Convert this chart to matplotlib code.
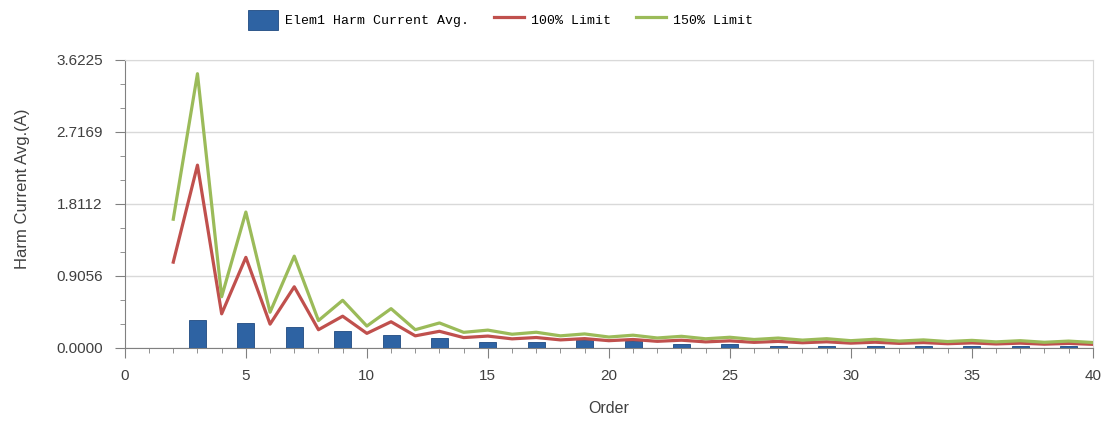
import matplotlib.pyplot as plt
import numpy as np
from matplotlib.ticker import MultipleLocator, AutoMinorLocator

# harmonic orders and measured average current (A)
orders = list(range(2, 41))
harm_avg = [0.005, 0.352, 0.005, 0.31, 0.005, 0.26, 0.005, 0.214, 0.005, 0.164,
            0.005, 0.122, 0.005, 0.072, 0.005, 0.072, 0.005, 0.10, 0.005, 0.09,
            0.005, 0.05, 0.005, 0.05, 0.005, 0.025, 0.005, 0.025, 0.005, 0.025,
            0.005, 0.025, 0.005, 0.025, 0.005, 0.025, 0.005, 0.03, 0.005]

# limit curves
limit_100 = [1.08, 2.30, 0.43, 1.14, 0.30, 0.77, 0.23, 0.40, 0.184, 0.33,
             0.153, 0.21, 0.131, 0.15, 0.115, 0.132, 0.102, 0.118, 0.092, 0.107,
             0.084, 0.098, 0.077, 0.090, 0.071, 0.083, 0.066, 0.078, 0.061, 0.073,
             0.058, 0.068, 0.054, 0.064, 0.051, 0.061, 0.048, 0.058, 0.046]
limit_150 = [1.62, 3.45, 0.645, 1.71, 0.45, 1.155, 0.345, 0.60, 0.276, 0.495,
             0.23, 0.315, 0.197, 0.225, 0.173, 0.198, 0.153, 0.177, 0.138, 0.161,
             0.126, 0.147, 0.116, 0.135, 0.107, 0.125, 0.099, 0.117, 0.092, 0.110,
             0.087, 0.102, 0.081, 0.096, 0.077, 0.092, 0.072, 0.087, 0.069]

yticks = [0.0, 0.9056, 1.8112, 2.7169, 3.6225]
ytick_labels = ['0.0000', '0.9056', '1.8112', '2.7169', '3.6225']

plt.rcParams['font.family'] = ['Liberation Sans', 'DejaVu Sans']

fig = plt.figure(figsize=(11.05, 4.21), dpi=100)
ax = fig.add_axes([0.113, 0.1734, 0.876, 0.6841])

bars = ax.bar(orders, harm_avg, width=0.7, color='#2e63a3', edgecolor='#1f4a80',
              linewidth=0.6, label='Elem1 Harm Current Avg.', zorder=3)
l100, = ax.plot(orders, limit_100, color='#c0504d', lw=2.3, label='100% Limit', zorder=4)
l150, = ax.plot(orders, limit_150, color='#9bbb59', lw=2.3, label='150% Limit', zorder=4)

ax.set_xlim(0, 40)
ax.set_ylim(0, 3.6225)
ax.set_yticks(yticks)
ax.set_yticklabels(ytick_labels)
ax.yaxis.set_minor_locator(AutoMinorLocator(3))
ax.xaxis.set_major_locator(MultipleLocator(5))
ax.xaxis.set_minor_locator(MultipleLocator(1))

ax.grid(axis='y', color='#d9d9d9', lw=1.0, zorder=0)
for side in ['top', 'right']:
    ax.spines[side].set_color('#d9d9d9')
for side in ['left', 'bottom']:
    ax.spines[side].set_color('#808080')

ax.tick_params(which='major', length=7, color='#808080', labelsize=11,
               labelcolor='#404040')
ax.tick_params(axis='y', which='major', pad=9)
ax.tick_params(axis='x', which='major', pad=8)
ax.tick_params(which='minor', length=3.5, color='#808080')

ax.set_xlabel('Order', fontsize=11.5, color='#404040', labelpad=13)
ax.set_ylabel('Harm Current Avg.(A)', fontsize=12, color='#404040')
ax.yaxis.set_label_coords(-0.098, 0.552)

fig.legend(handles=[bars, l100, l150], loc='center', bbox_to_anchor=(0.453, 1 - 20 / 421),
           ncol=3, frameon=False, prop={'family': 'Liberation Mono', 'size': 9.5},
           handlelength=2.3, columnspacing=1.9, handleheight=1.9, handletextpad=0.5)

plt.savefig('out.png', dpi=100)
